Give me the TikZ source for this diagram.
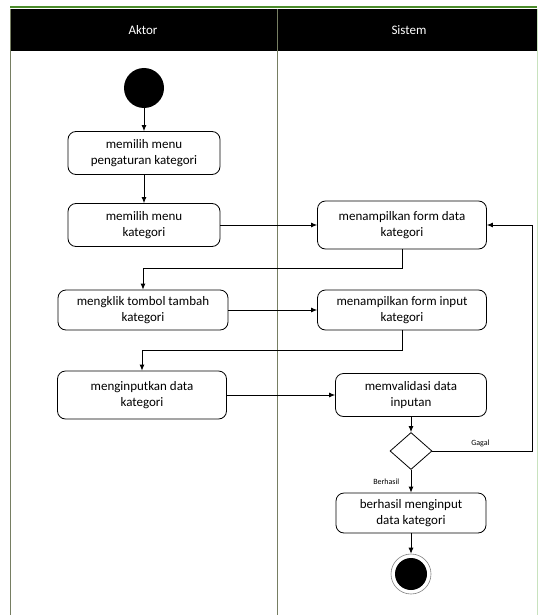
\documentclass[tikz,border=0pt]{standalone}
\usepackage{fontspec}
\setmainfont{Carlito}
\usetikzlibrary{shapes.geometric,arrows.meta}
\definecolor{lanegreen}{RGB}{76,140,43}
\definecolor{laneline}{RGB}{118,126,98}
\definecolor{lightedge}{RGB}{200,226,190}
\begin{document}
\begin{tikzpicture}[x=1pt, y=-1pt, >={Latex[length=6pt,width=5pt]}, line width=0.8pt,
  act node/.style={rectangle,rounded corners=8pt,draw,align=center,inner sep=2pt,font=\fontsize{13}{16.5}\selectfont},
  head node/.style={text=white,font=\fontsize{13}{15}\selectfont},
  guard node/.style={font=\fontsize{8}{9}\selectfont}]
\useasboundingbox (0,0) rectangle (548,615);
% swimlanes
\fill[black] (10,9) rectangle (537,51);
\draw[lanegreen, line width=2pt] (10,7) -- (537,7);
\draw[laneline, line width=0.6pt] (10,9) -- (10,615);
\draw[laneline, line width=0.8pt] (277,9) -- (277,615);
\draw[lightedge, line width=1pt] (537,9) -- (537,615);
\node [head node](aktor) at (143,30) {Aktor};
\node [head node](sistem) at (409,30) {Sistem};
% activities
\node [circle,fill=black,minimum size=40pt,inner sep=0pt](start) at (144,88) {};
\node [act node,minimum width=152pt,minimum height=43pt](pilihatur) at (144,153) {memilih menu\\pengaturan kategori};
\node [act node,minimum width=152pt,minimum height=43pt](pilihkat) at (144,225) {memilih menu\\kategori};
\node [act node,minimum width=169pt,minimum height=48pt](formdata) at (402,225) {menampilkan form data\\kategori};
\node [act node,minimum width=170pt,minimum height=40pt](tambah) at (143,310) {mengklik tombol tambah\\kategori};
\node [act node,minimum width=169pt,minimum height=40pt](forminput) at (402,310) {menampilkan form input\\kategori};
\node [act node,minimum width=169pt,minimum height=48pt](inputdata) at (142,395) {menginputkan data\\kategori};
\node [act node,minimum width=151pt,minimum height=43pt](validasi) at (411,395) {memvalidasi data\\inputan};
\node [diamond,draw,minimum width=42pt,minimum height=37pt,inner sep=0pt](cek) at (411,451) {};
\node [act node,minimum width=150pt,minimum height=40pt](berhasil) at (411,513) {berhasil menginput\\data kategori};
\node [circle,draw=gray,line width=0.6pt,minimum size=40pt,inner sep=0pt,
  path picture={\fill[black] (path picture bounding box.center) circle (16pt);}](stop) at (411,574) {};
\path[->]
	(start) edge (pilihatur)
	(pilihatur) edge (pilihkat)
	(pilihkat) edge (formdata)
	(tambah) edge (forminput)
	(inputdata) edge (validasi)
	(validasi) edge (cek)
	(cek) edge node[guard node,left=8pt]{Berhasil} (berhasil)
	(berhasil) edge (stop)
	;
\draw[->] (formdata.south) -- ++(0,19) -| (tambah.north);
\draw[->] (forminput.south) -- ++(0,20) -| (inputdata.north);
\draw[->] (cek.east) -- node[guard node,pos=.48,above]{Gagal} ++(100,0) |- (formdata.east);
\end{tikzpicture}
\end{document}
